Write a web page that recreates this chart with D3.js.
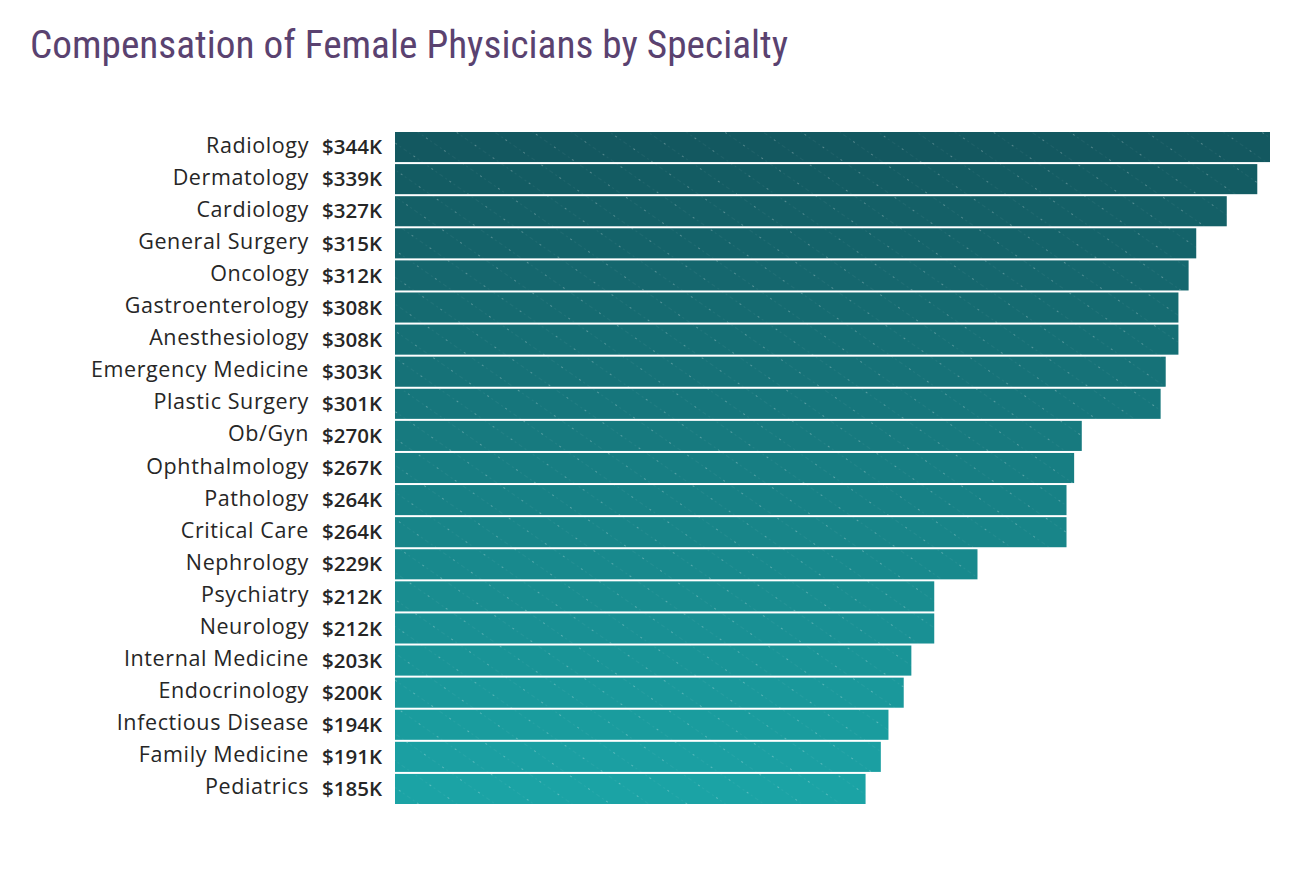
<!DOCTYPE html>
<html><head><meta charset="utf-8">
<script src="https://cdn.jsdelivr.net/npm/d3@7"></script>
<style>
html,body{margin:0;padding:0;background:#fff;}
svg{display:block;}
</style></head>
<body>
<svg id="chart" width="1290" height="878"></svg>
<script>
const categories = ["Radiology","Dermatology","Cardiology","General Surgery","Oncology","Gastroenterology","Anesthesiology","Emergency Medicine","Plastic Surgery","Ob/Gyn","Ophthalmology","Pathology","Critical Care","Nephrology","Psychiatry","Neurology","Internal Medicine","Endocrinology","Infectious Disease","Family Medicine","Pediatrics"];
const values = [344,339,327,315,312,308,308,303,301,270,267,264,264,229,212,212,203,200,194,191,185];
const title = "Compensation of Female Physicians by Specialty";

const svg = d3.select("#chart");
const defs = svg.append("defs");
const pat = defs.append("pattern").attr("id","tex").attr("patternUnits","userSpaceOnUse")
  .attr("width",22).attr("height",22).attr("patternTransform","rotate(35)");
pat.append("line").attr("x1",0).attr("y1",0).attr("x2",22).attr("y2",0)
  .attr("stroke","#ffffff").attr("stroke-opacity",0.10).attr("stroke-width",1.2).attr("stroke-dasharray","2 3");
pat.append("circle").attr("cx",11).attr("cy",0).attr("r",0.9).attr("fill","#ffffff").attr("fill-opacity",0.35);

const x = d3.scaleLinear().domain([0,344]).range([395,1270]);
const y = d3.scaleBand().domain(categories).range([132,804]).paddingInner(0.0625).paddingOuter(0);
const color = d3.scaleLinear().domain([0, categories.length-1]).range(["#135860","#1ba3a5"]).interpolate(d3.interpolateRgb);

svg.append("text").attr("x",30).attr("y",58)
  .attr("font-family","'Roboto Condensed','Liberation Sans Narrow','Roboto',sans-serif")
  .attr("font-size",38).attr("fill","#5a4270")
  .attr("textLength",758).attr("lengthAdjust","spacingAndGlyphs")
  .text(title);

const g = svg.append("g");
const rows = g.selectAll("g.row").data(categories).join("g").attr("class","row");
rows.append("rect").attr("x",x(0)).attr("y",d=>y(d)).attr("height",y.bandwidth())
  .attr("width",(d,i)=>x(values[i])-x(0)).attr("fill",(d,i)=>color(i));
rows.append("rect").attr("x",x(0)).attr("y",d=>y(d)).attr("height",y.bandwidth())
  .attr("width",(d,i)=>x(values[i])-x(0)).attr("fill","url(#tex)");
rows.append("text").attr("x",309).attr("y",d=>y(d)+y.bandwidth()/2-2)
  .attr("dy","0.35em").attr("text-anchor","end")
  .attr("font-family","'Open Sans',sans-serif").attr("font-size",21.5).attr("letter-spacing",0.6).attr("fill","#262626")
  .text(d=>d);
rows.append("text").attr("x",352).attr("y",d=>y(d)+y.bandwidth()/2)
  .attr("dy","0.35em").attr("text-anchor","middle")
  .attr("font-family","'Open Sans',sans-serif").attr("font-weight",600).attr("font-size",20.5).attr("fill","#262626")
  .text((d,i)=>"$"+values[i]+"K");
</script>
</body></html>
